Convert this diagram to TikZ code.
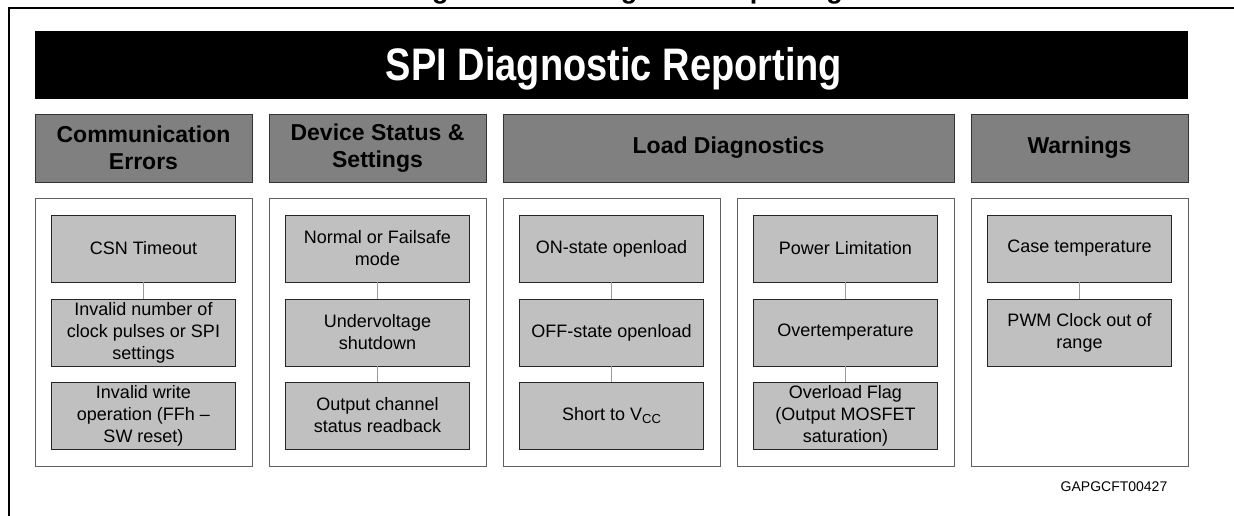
\documentclass[tikz,border=0pt]{standalone}
\usepackage{fontspec}
\setmainfont{Liberation Sans}
\definecolor{hdrgray}{HTML}{808080}
\definecolor{itemgray}{HTML}{C0C0C0}
\definecolor{panelline}{HTML}{606060}
\definecolor{linkblue}{HTML}{7F9FD4}
\begin{document}
\begin{tikzpicture}[x=1pt,y=-1pt,
  hdr/.style={draw=black!80, fill=hdrgray, line width=0.9pt, minimum height=68pt, inner sep=0pt, align=center, font=\fontsize{23}{27}\selectfont\bfseries},
  panel/.style={draw=panelline, fill=white, line width=0.9pt, minimum width=217pt, minimum height=268pt, inner sep=0pt},
  item/.style={draw=black!85, fill=itemgray, line width=0.9pt, minimum width=184pt, minimum height=67pt, inner sep=0pt, align=center, font=\fontsize{18}{22}\selectfont},
  link/.style={draw=linkblue, line width=0.9pt}]
\useasboundingbox (0,0) rectangle (1234,515);
\begin{scope}
\clip (0,0) rectangle (1234,515);
% cut-off caption
\node[anchor=base west, inner sep=0pt, font=\fontsize{27}{27}\selectfont\bfseries] (cap) at (408,-1.5) {Figure 5. SPI diagnostic reporting};
% outer frame
\draw[line width=2pt] (9,530) -- (9,8) -- (1250,8);
\end{scope}
% title bar
\fill[black] (35,31) rectangle (1188,99);
\node[anchor=base, text=white, inner sep=0pt, font=\fontsize{38}{38}\selectfont\bfseries] (title) at (614,80) {\scalebox{1}[1.2]{SPI Diagnostic Reporting}};
% headers
\node[hdr, minimum width=217pt] (hcomm) at (143.5,148) {Communication\\Errors};
\node[hdr, minimum width=217pt] (hdev) at (377.5,148) {Device Status \&\\Settings};
\node[hdr, minimum width=451pt] (hload) at (728.5,148) {Load Diagnostics};
\node[hdr, minimum width=217pt] (hwarn) at (1079.5,148) {Warnings};
% panels
\node[panel] (pcomm) at (143.5,332) {};
\node[panel] (pdev) at (377.5,332) {};
\node[panel] (pload1) at (611.5,332) {};
\node[panel] (pload2) at (845.5,332) {};
\node[panel] (pwarn) at (1079.5,332) {};
% items: communication errors
\node[item] (c1) at (143.5,248.5) {CSN Timeout};
\node[item] (c2) at (143.5,332.5) {Invalid number of\\clock pulses or SPI\\settings};
\node[item] (c3) at (143.5,415.5) {Invalid write\\operation (FFh –\\SW reset)};
% device status
\node[item] (d1) at (377.5,248.5) {Normal or Failsafe\\mode};
\node[item] (d2) at (377.5,332.5) {Undervoltage\\shutdown};
\node[item] (d3) at (377.5,415.5) {Output channel\\status readback};
% load diagnostics 1
\node[item] (l1) at (611.5,248.5) {ON-state openload};
\node[item] (l2) at (611.5,332.5) {OFF-state openload};
\node[item] (l3) at (611.5,415.5) {Short to V\raisebox{-0.25ex}{\fontsize{13}{13}\selectfont CC}};
% load diagnostics 2
\node[item] (m1) at (845.5,248.5) {Power Limitation};
\node[item] (m2) at (845.5,332.5) {Overtemperature};
\node[item] (m3) at (845.5,415.5) {Overload Flag\\(Output MOSFET\\saturation)};
% warnings
\node[item] (w1) at (1079.5,248.5) {Case temperature};
\node[item] (w2) at (1079.5,332.5) {PWM Clock out of\\range};
% connectors
\draw[link] (c1.south) -- (c2.north);
\draw[link] (d1.south) -- (d2.north);
\draw[link] (d2.south) -- (d3.north);
\draw[link] (l1.south) -- (l2.north);
\draw[link] (l2.south) -- (l3.north);
\draw[link] (m1.south) -- (m2.north);
\draw[link] (m2.south) -- (m3.north);
\draw[link] (w1.south) -- (w2.north);
% figure code
\node[inner sep=0pt, font=\fontsize{14}{14}\selectfont] (code) at (1114,487) {GAPGCFT00427};
\end{tikzpicture}
\end{document}
